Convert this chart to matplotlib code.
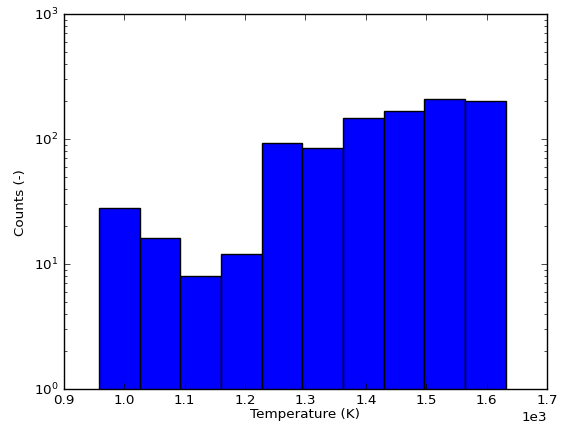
import numpy as np
import matplotlib
matplotlib.use("Agg")
import matplotlib.pyplot as plt

# Histogram of temperatures
bin_edges = np.linspace(958.0, 1631.5, 11)
counts = [28, 16, 8, 12, 92, 84, 147, 166, 208, 200]

plt.style.use('classic')
plt.rcParams['font.size'] = 9.7
plt.rcParams['xtick.major.pad'] = 3
plt.rcParams['ytick.major.pad'] = 4

fig = plt.figure(figsize=(5.61, 4.27), dpi=100, facecolor='white')
ax = fig.add_axes([0.114, 0.087, 0.861, 0.878])

ax.hist(bin_edges[:-1], bins=bin_edges, weights=counts, log=True,
        color='blue', edgecolor='black')

ax.set_xlim(900, 1700)
ax.set_ylim(1, 1000)
ax.ticklabel_format(axis='x', style='sci', scilimits=(0, 0))
ax.set_xlabel('Temperature (K)', labelpad=1)
ax.set_ylabel('Counts (-)')

fig.savefig('out.png', dpi=100, facecolor='white')
